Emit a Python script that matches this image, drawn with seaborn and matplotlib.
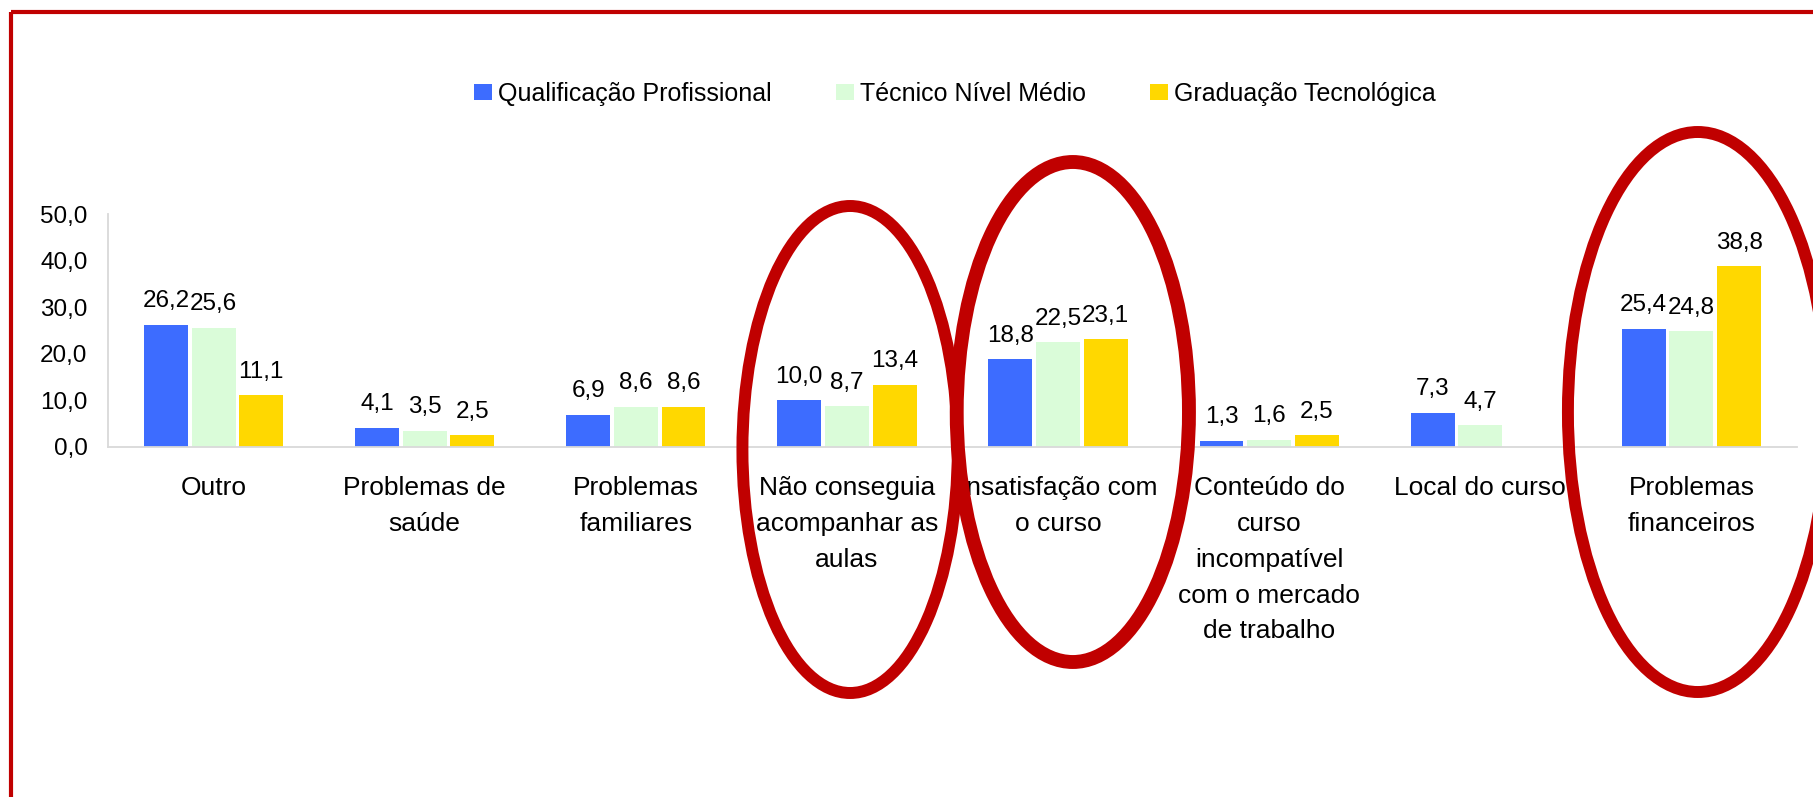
import numpy as np
import pandas as pd
import seaborn as sns
import matplotlib
matplotlib.use("Agg")
import matplotlib.pyplot as plt
from matplotlib.patches import Ellipse, Patch
from matplotlib.lines import Line2D
from matplotlib.transforms import blended_transform_factory

# ---------------- data ----------------
categories = [
    "Outro",
    "Problemas de\nsaúde",
    "Problemas\nfamiliares",
    "Não conseguia\nacompanhar as\naulas",
    "Insatisfação com\no curso",
    "Conteúdo do\ncurso\nincompatível\ncom o mercado\nde trabalho",
    "Local do curso",
    "Problemas\nfinanceiros",
]
series = ["Qualificação Profissional", "Técnico Nível Médio", "Graduação Tecnológica"]
qualificacao = [26.2, 4.1, 6.9, 10.0, 18.8, 1.3, 7.3, 25.4]
tecnico = [25.6, 3.5, 8.6, 8.7, 22.5, 1.6, 4.7, 24.8]
graduacao = [11.1, 2.5, 8.6, 13.4, 23.1, 2.5, None, 38.8]
yticks = [0, 10, 20, 30, 40, 50]
highlighted = [3, 4, 7]  # categories circled in red

colors = ["#3D6CFF", "#DAFCD9", "#FFD800"]

rows = []
for s, vals in zip(series, [qualificacao, tecnico, graduacao]):
    for c, v in zip(categories, vals):
        if v is not None:
            rows.append({"categoria": c, "serie": s, "valor": v})
df = pd.DataFrame(rows)

# ---------------- style ----------------
sns.set_style("white")
plt.rcParams["font.family"] = ["Liberation Sans", "DejaVu Sans"]
plt.rcParams["text.color"] = "black"

W, H = 1813, 797
fig = plt.figure(figsize=(W / 100, H / 100), dpi=100)
fig.patch.set_facecolor("white")

ax_left, ax_right, ax_top, ax_bottom = 108, 1797, 214, 447
ax = fig.add_axes([ax_left / W, 1 - ax_bottom / H, (ax_right - ax_left) / W, (ax_bottom - ax_top) / H])

sns.barplot(
    data=df, x="categoria", y="valor", hue="serie",
    order=categories, hue_order=series, palette=colors,
    width=0.678, gap=0.08, saturation=1, errorbar=None,
    edgecolor="none", linewidth=0, legend=False, ax=ax,
)

ax.set_xlim(-0.5, len(categories) - 0.5)
ax.set_ylim(0, 50)
ax.set_xlabel("")
ax.set_ylabel("")

for sp in ["top", "right"]:
    ax.spines[sp].set_visible(False)
for sp in ["left", "bottom"]:
    ax.spines[sp].set_color("#D9D9D9")
    ax.spines[sp].set_linewidth(1.3)

ax.set_yticks(yticks)
ax.set_yticklabels([f"{v:.1f}".replace(".", ",") for v in yticks])
ax.tick_params(axis="y", length=5.8, width=1.1, color="#D9D9D9", pad=9, labelsize=17.5, labelcolor="black")

ax.set_xticks(range(len(categories)))
ax.set_xticklabels(categories)
ax.set_xticks(np.arange(-0.5, len(categories), 1), minor=True)
ax.tick_params(axis="x", which="major", length=0, pad=21, labelsize=19, labelcolor="black")
ax.tick_params(axis="x", which="minor", length=7.2, width=1.1, color="#D9D9D9")
for lbl in ax.get_xticklabels():
    lbl.set_linespacing(1.62)
    lbl.set_horizontalalignment("center")

# value labels
for cont in ax.containers:
    labs = [f"{v:.1f}".replace(".", ",") for v in cont.datavalues]
    ax.bar_label(cont, labels=labs, padding=9, fontsize=17.5, color="black")

# legend
handles = [Patch(facecolor=c, edgecolor="none") for c in colors]
fig.legend(
    handles=handles, labels=series, loc="center",
    bbox_to_anchor=(955 / W, 1 - 94 / H), ncol=3, frameon=False,
    fontsize=18, handlelength=0.72, handleheight=0.64,
    handletextpad=0.24, columnspacing=2.56, borderaxespad=0,
)

# red highlight ellipses (x in data coords, y in figure fraction)
trans = blended_transform_factory(ax.transData, fig.transFigure)
ell_specs = [
    # (category index, x offset, width(data), center y(px), height(px), lw(pt))
    (highlighted[0], 0.015, 1.02, 449.5, 487, 8.6),
    (highlighted[1], 0.07, 1.10, 412, 500, 10.0),
    (highlighted[2], 0.03, 1.23, 412, 560, 8.6),
]
for idx, dx, w, cy, h, lw in ell_specs:
    e = Ellipse((idx + dx, 1 - cy / H), w, h / H, transform=trans,
                facecolor="none", edgecolor="#C00000", linewidth=lw,
                clip_on=False, zorder=20)
    ax.add_artist(e)

# red frame (left and top edges)
fx = 10.5 / W
fy = 1 - 12 / H
fig.add_artist(Line2D([fx, fx], [0, fy], transform=fig.transFigure, color="#C00000", lw=3.0, solid_capstyle="butt"))
fig.add_artist(Line2D([fx, 1], [fy, fy], transform=fig.transFigure, color="#C00000", lw=3.0, solid_capstyle="butt"))

fig.savefig("out.png", dpi=100)
